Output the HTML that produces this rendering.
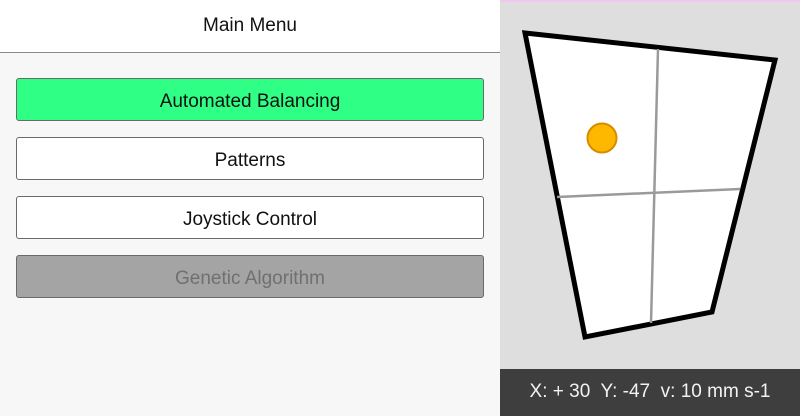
<!DOCTYPE html>
<html><head><meta charset="utf-8"><style>
*{margin:0;padding:0;box-sizing:border-box}
body{width:800px;height:416px;overflow:hidden;font-family:"Liberation Sans",sans-serif;position:relative;background:#f7f7f7}
#left{position:absolute;left:0;top:0;width:500px;height:416px;background:#f7f7f7}
#hdr{position:absolute;left:0;top:0;width:500px;height:53px;background:#fff;border-bottom:1px solid #8a8a8a;text-align:center;line-height:52px;font-size:19px;color:#111}
.btn{position:absolute;left:16px;width:468px;height:43px;border:1px solid #6a6a6a;border-radius:3px;background:#fff;text-align:center;line-height:45px;font-size:19px;color:#111}
#right{position:absolute;left:500px;top:0;width:300px;height:416px;background:#dedede;border-top:2px solid #f2c6ee}
#status{position:absolute;left:500px;top:369px;width:300px;height:47px;background:#3e3e3e;color:#f2f2f2;font-size:19px;line-height:46px;text-align:center;white-space:pre}
svg{position:absolute;left:0;top:0}
</style></head><body>
<div id="left">
<div id="hdr">Main Menu</div>
<div class="btn" style="top:78px;background:#30ff86">Automated Balancing</div>
<div class="btn" style="top:137px">Patterns</div>
<div class="btn" style="top:196px">Joystick Control</div>
<div class="btn" style="top:255px;background:#a4a4a4;color:#707070">Genetic Algorithm</div>
</div>
<div id="right"></div>
<svg width="800" height="416">
<polygon points="525,33 775,60 712,312 585,337" fill="#fff" stroke="#000" stroke-width="5" stroke-linejoin="miter"/>
<line x1="658" y1="49" x2="651" y2="323" stroke="#9a9a9a" stroke-width="2.5"/>
<line x1="557" y1="197" x2="740" y2="189" stroke="#9a9a9a" stroke-width="2.5"/>
<circle cx="602" cy="138" r="14.5" fill="#ffb800" stroke="#d98a00" stroke-width="2"/>
</svg>
<div id="status">X: + 30  Y: -47  v: 10 mm s-1</div>
</body></html>
